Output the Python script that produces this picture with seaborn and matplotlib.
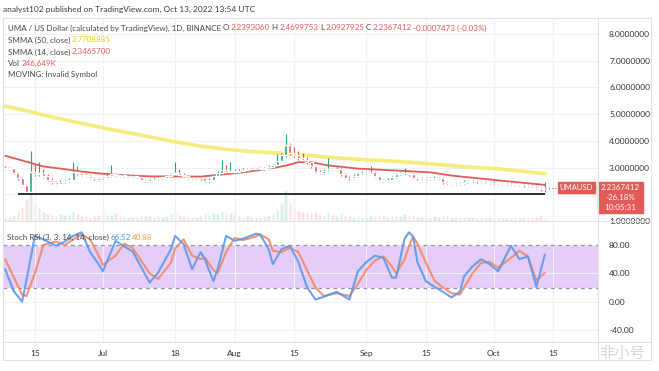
import matplotlib
matplotlib.use("Agg")
import matplotlib.pyplot as plt
from matplotlib.lines import Line2D
from matplotlib.patches import Rectangle
from matplotlib.ticker import FormatStrFormatter
import pandas as pd
import seaborn as sns

W, H = 659, 371

# daily candles, 2022-06-08 .. 2022-10-13
first_day = "2022-06-08"
first_open = 3.00
closes = [
    2.95, 2.97, 2.80, 2.60, 2.35, 2.10, 2.85, 2.75, 2.80, 2.70, 2.55, 2.45, 2.40, 2.45, 2.50, 2.55,
    2.85, 2.78, 2.72, 2.68, 2.62, 2.60, 2.55, 2.62, 2.68, 2.75, 2.72, 2.70, 2.70, 2.68, 2.70, 2.66,
    2.55, 2.50, 2.56, 2.58, 2.62, 2.62, 2.68, 2.75, 2.80, 2.72, 2.68, 2.62, 2.60, 2.62, 2.60, 2.50,
    2.55, 2.70, 2.80, 2.90, 2.85, 2.88, 2.85, 2.88, 2.92, 2.95, 2.93, 2.95, 2.97, 2.95, 3.02, 3.10,
    3.25, 3.45, 3.85, 3.55, 3.45, 3.35, 3.30, 3.20, 3.05, 2.85, 2.80, 2.88, 2.95, 2.92, 2.95, 2.75,
    2.62, 2.60, 2.70, 2.78, 2.80, 2.82, 2.85, 2.70, 2.55, 2.50, 2.55, 2.65, 2.75, 2.78, 2.80, 2.75,
    2.62, 2.60, 2.62, 2.60, 2.58, 2.62, 2.60, 2.45, 2.42, 2.40, 2.38, 2.42, 2.45, 2.48, 2.50, 2.48,
    2.47, 2.45, 2.42, 2.44, 2.43, 2.40, 2.38, 2.40, 2.36, 2.35, 2.33, 2.32, 2.30, 2.25, 2.20, 2.24,
]
highs = [
    3.05, 3.02, 3.00, 2.84, 2.63, 2.40, 3.60, 3.15, 3.20, 2.95, 2.75, 2.60, 2.50, 2.52, 2.55, 2.62,
    3.20, 3.05, 2.85, 2.78, 2.72, 2.66, 2.64, 2.66, 2.75, 3.10, 2.80, 2.76, 2.75, 2.74, 2.74, 2.74,
    2.68, 2.58, 2.60, 2.63, 2.66, 2.68, 2.72, 2.80, 3.20, 2.95, 2.78, 2.72, 2.66, 2.66, 2.66, 2.63,
    2.60, 2.75, 2.88, 3.30, 3.10, 3.20, 2.95, 2.93, 2.97, 3.00, 3.00, 3.00, 3.02, 3.02, 3.08, 3.15,
    3.50, 3.55, 4.25, 3.92, 3.75, 3.62, 3.55, 3.40, 3.25, 3.10, 2.92, 2.95, 3.35, 3.00, 3.05, 3.00,
    2.78, 2.68, 2.74, 2.82, 2.86, 2.88, 3.05, 2.88, 2.73, 2.58, 2.60, 2.70, 2.80, 2.84, 3.00, 2.85,
    2.78, 2.66, 2.66, 2.66, 2.64, 2.70, 2.66, 2.63, 2.50, 2.46, 2.44, 2.47, 2.55, 2.53, 2.55, 2.54,
    2.52, 2.50, 2.48, 2.48, 2.48, 2.46, 2.43, 2.44, 2.42, 2.40, 2.38, 2.37, 2.35, 2.33, 2.28, 2.47,
]
lows = [
    2.92, 2.92, 2.76, 2.55, 2.30, 2.03, 2.02, 2.70, 2.68, 2.65, 2.50, 2.40, 2.35, 2.38, 2.42, 2.47,
    2.52, 2.72, 2.68, 2.64, 2.58, 2.55, 2.48, 2.52, 2.60, 2.65, 2.68, 2.66, 2.66, 2.64, 2.65, 2.62,
    2.50, 2.45, 2.47, 2.53, 2.55, 2.58, 2.60, 2.65, 2.72, 2.68, 2.64, 2.58, 2.56, 2.56, 2.55, 2.45,
    2.47, 2.52, 2.67, 2.77, 2.80, 2.82, 2.80, 2.82, 2.85, 2.88, 2.88, 2.90, 2.92, 2.90, 2.92, 2.98,
    3.05, 3.20, 3.40, 3.48, 3.40, 3.30, 3.25, 3.15, 3.00, 2.80, 2.75, 2.76, 2.85, 2.88, 2.88, 2.70,
    2.58, 2.55, 2.57, 2.66, 2.74, 2.76, 2.78, 2.66, 2.50, 2.45, 2.47, 2.52, 2.62, 2.72, 2.74, 2.70,
    2.58, 2.55, 2.56, 2.56, 2.54, 2.55, 2.56, 2.40, 2.38, 2.36, 2.34, 2.35, 2.39, 2.42, 2.45, 2.44,
    2.43, 2.41, 2.38, 2.39, 2.39, 2.36, 2.34, 2.35, 2.32, 2.31, 2.29, 2.28, 2.26, 2.20, 2.12, 2.09,
]
volume_k = [
    450, 400, 600, 900, 1400, 2200, 3300, 1700, 1300, 900, 700, 600, 500, 700, 650, 600,
    1000, 700, 550, 500, 450, 500, 600, 900, 650, 600, 800, 500, 450, 400, 450, 400,
    550, 600, 500, 450, 500, 450, 500, 700, 950, 650, 500, 450, 400, 450, 500, 700,
    600, 800, 700, 950, 700, 800, 600, 500, 450, 500, 450, 400, 450, 500, 600, 800,
    1200, 1700, 3100, 1800, 1200, 1000, 900, 800, 850, 900, 600, 550, 900, 600, 500, 700,
    650, 500, 450, 500, 450, 400, 600, 550, 600, 500, 450, 500, 550, 500, 700, 550,
    600, 450, 400, 380, 400, 500, 450, 600, 500, 420, 400, 380, 450, 400, 380, 350,
    360, 340, 380, 350, 330, 340, 320, 350, 330, 320, 300, 310, 330, 380, 600, 247,
]

smma50_dates = ["2022-06-08", "2022-06-13", "2022-06-18", "2022-06-24", "2022-06-30", "2022-07-06",
                "2022-07-12", "2022-07-18", "2022-07-24", "2022-07-30", "2022-08-05", "2022-08-13",
                "2022-08-18", "2022-08-24", "2022-08-31", "2022-09-09", "2022-09-15", "2022-09-21",
                "2022-09-27", "2022-10-02", "2022-10-07", "2022-10-13"]
smma50 = [5.30, 5.12, 4.93, 4.72, 4.52, 4.33, 4.15, 3.96, 3.80, 3.68, 3.60, 3.52,
          3.46, 3.37, 3.30, 3.22, 3.15, 3.07, 3.00, 2.95, 2.87, 2.77]

smma14_dates = ["2022-06-08", "2022-06-13", "2022-06-17", "2022-06-21", "2022-06-26", "2022-06-30",
                "2022-07-07", "2022-07-12", "2022-07-24", "2022-08-02", "2022-08-09", "2022-08-13",
                "2022-08-16", "2022-08-19", "2022-08-23", "2022-08-30", "2022-09-09", "2022-09-16",
                "2022-09-21", "2022-10-02", "2022-10-13"]
smma14 = [3.44, 3.22, 3.04, 2.96, 2.85, 2.78, 2.70, 2.67, 2.66, 2.80, 2.95, 3.07,
          3.20, 3.20, 3.08, 2.96, 2.88, 2.82, 2.70, 2.52, 2.35]

stoch_dates = ["2022-06-08", "2022-06-10", "2022-06-12", "2022-06-13", "2022-06-15", "2022-06-17",
               "2022-06-20", "2022-06-22", "2022-06-24", "2022-06-26", "2022-06-28", "2022-06-30",
               "2022-07-01", "2022-07-04", "2022-07-06", "2022-07-08", "2022-07-12", "2022-07-14",
               "2022-07-17", "2022-07-18", "2022-07-20", "2022-07-22", "2022-07-24", "2022-07-25",
               "2022-07-27", "2022-07-28", "2022-07-30", "2022-08-01", "2022-08-03", "2022-08-06",
               "2022-08-07", "2022-08-09", "2022-08-10", "2022-08-12", "2022-08-14", "2022-08-16",
               "2022-08-18", "2022-08-20", "2022-08-22", "2022-08-25", "2022-08-28", "2022-08-30",
               "2022-09-01", "2022-09-03", "2022-09-05", "2022-09-07", "2022-09-08", "2022-09-10",
               "2022-09-11", "2022-09-12", "2022-09-13", "2022-09-15", "2022-09-17", "2022-09-19",
               "2022-09-21", "2022-09-23", "2022-09-24", "2022-09-26", "2022-09-28", "2022-09-30",
               "2022-10-02", "2022-10-05", "2022-10-07", "2022-10-09", "2022-10-11", "2022-10-13"]
stoch_k = [46, 15, 0, 30, 93, 88, 79, 85, 93, 98, 70, 53,
           43, 86, 78, 71, 27, 41, 74, 93, 81, 46, 70, 60,
           29, 46, 93, 86, 89, 96, 95, 74, 53, 74, 79, 56,
           21, 3, 7, 14, 3, 43, 56, 65, 62, 34, 34, 89,
           98, 92, 56, 29, 21, 14, 6, 14, 36, 50, 60, 53,
           43, 79, 60, 64, 21, 66.52]
stoch_d = [60, 35, 10, 8, 40, 80, 85, 80, 88, 95, 88, 65,
           52, 65, 82, 76, 40, 32, 55, 75, 88, 65, 60, 62,
           45, 40, 70, 90, 87, 92, 95, 88, 72, 70, 76, 70,
           45, 20, 8, 12, 8, 25, 45, 58, 64, 50, 40, 60,
           78, 92, 82, 55, 30, 20, 12, 10, 20, 40, 55, 56,
           48, 62, 72, 64, 30, 40.88]

price_ticks = [1, 2, 3, 4, 5, 6, 7, 8]
price_labels = ["1.0000000", "", "3.0000000", "4.0000000", "5.0000000",
                "6.0000000", "7.0000000", "8.0000000"]
stoch_ticks = [-40, 0, 40, 80]
date_ticks = ["2022-06-15", "2022-07-01", "2022-07-18", "2022-08-01", "2022-08-15",
              "2022-09-01", "2022-09-15", "2022-10-01", "2022-10-15"]
date_labels = ["15", "Jul", "18", "Aug", "15", "Sep", "15", "Oct", "15"]
support_level = 2.01

UP = "#2aa383"
DOWN = "#e35b57"
YELLOW = "#f5ec7c"
GRID = "#f0f1f4"
FRAME = "#dfe2ea"

sns.set_theme(style="white")
plt.rcParams["font.family"] = ["Lato", "Noto Sans CJK SC", "DejaVu Sans"]

candles = pd.DataFrame({
    "date": pd.date_range(first_day, periods=len(closes), freq="D"),
    "open": [first_open] + closes[:-1],
    "high": highs,
    "low": lows,
    "close": closes,
    "volume": volume_k,
})
candles["up"] = candles["close"] >= candles["open"]
candles["color"] = candles["up"].map({True: UP, False: DOWN})
candles["body_low"] = candles[["open", "close"]].min(axis=1)
candles["body_h"] = (candles["close"] - candles["open"]).abs().clip(lower=0.02)

smma = pd.concat([
    pd.DataFrame({"date": pd.to_datetime(smma50_dates), "value": smma50, "line": "SMMA 50"}),
    pd.DataFrame({"date": pd.to_datetime(smma14_dates), "value": smma14, "line": "SMMA 14"}),
])
stoch = pd.concat([
    pd.DataFrame({"date": pd.to_datetime(stoch_dates), "value": stoch_d, "line": "D"}),
    pd.DataFrame({"date": pd.to_datetime(stoch_dates), "value": stoch_k, "line": "K"}),
])

fig = plt.figure(figsize=(W / 100, H / 100), dpi=100)
fig.patch.set_facecolor("white")


def fx(x):
    return x / W


def fy(y):
    return 1 - y / H


ax_p = fig.add_axes([fx(3), fy(221), 595 / W, 203 / H])
ax_s = fig.add_axes([fx(3), fy(342), 595 / W, 121 / H], sharex=ax_p)
ax_v = ax_p.twinx()
ax_v.set_zorder(ax_p.get_zorder() - 1)
ax_p.patch.set_visible(False)

x_left = pd.Timestamp("2022-06-15") - pd.Timedelta(days=7.5)
x_right = pd.Timestamp("2022-06-15") + pd.Timedelta(days=132.5)

# volume overlay
ax_v.bar(candles["date"], candles["volume"], width=0.6, color=candles["color"], alpha=0.18)
ax_v.set_ylim(0, 20500)
ax_v.axis("off")

# candles
ax_p.vlines(candles["date"], candles["low"], candles["high"], color=candles["color"], lw=0.8, zorder=3)
ax_p.bar(candles["date"], candles["body_h"], bottom=candles["body_low"], width=0.72,
         color=candles["color"], zorder=4)
sns.lineplot(data=smma, x="date", y="value", hue="line", ax=ax_p, legend=False,
             palette={"SMMA 50": YELLOW, "SMMA 14": DOWN}, size="line",
             sizes={"SMMA 50": 2.6, "SMMA 14": 1.3}, zorder=2)
ax_p.hlines(support_level, pd.Timestamp("2022-06-11"), candles["date"].iloc[-1],
            color="#1e1e1e", lw=1.3, zorder=5)
ax_p.hlines(closes[-1], candles["date"].iloc[-1], x_right, color=DOWN, lw=0.8,
            linestyles=(0, (1, 2)), zorder=5)

ax_p.set_ylim(1.074, 8.593)
ax_p.set_yticks(price_ticks)
ax_p.set_yticklabels(price_labels)
ax_p.yaxis.tick_right()
ax_p.tick_params(axis="y", length=0, pad=8, labelsize=6, labelcolor="#333333")
ax_p.tick_params(axis="x", length=0, labelbottom=False)

# stoch rsi pane
ax_s.axhspan(20, 80, color="#e4cdf7", lw=0, zorder=0)
for level in (80, 20):
    ax_s.axhline(level, color="#9a8cb4", lw=0.9, ls=(0, (3, 3)), zorder=1)
sns.lineplot(data=stoch, x="date", y="value", hue="line", ax=ax_s, legend=False,
             palette={"K": "#5f98e8", "D": "#f08a66"}, lw=1.5, alpha=0.9, zorder=3)
ax_s.set_ylim(-57, 114)
ax_s.set_yticks(stoch_ticks)
ax_s.yaxis.set_major_formatter(FormatStrFormatter("%.2f"))
ax_s.yaxis.tick_right()
ax_s.tick_params(axis="y", length=0, pad=8, labelsize=6, labelcolor="#333333")

ax_s.set_xlim(x_left, x_right)
ax_s.set_xticks(pd.to_datetime(date_ticks))
ax_s.set_xticklabels(date_labels)
ax_s.tick_params(axis="x", length=0, pad=6, labelsize=6, labelcolor="#333333")

for ax in (ax_p, ax_s):
    ax.set_xlabel("")
    ax.set_ylabel("")
    ax.grid(True, color=GRID, lw=0.8)
    ax.set_axisbelow(True)
    for spine in ax.spines.values():
        spine.set_visible(False)

# frame lines
for xs, ys in [([3, 651], [18, 18]), ([3, 651], [360, 360]), ([3, 3], [18, 360]),
               ([651, 651], [18, 360]), ([598, 598], [18, 360]),
               ([3, 651], [221, 221]), ([3, 651], [342, 342])]:
    fig.add_artist(Line2D([fx(v) for v in xs], [fy(v) for v in ys], color=FRAME, lw=0.8))

renderer = fig.canvas.get_renderer()


def text_row(x, y, parts, size=5.8):
    for s, color in parts:
        t = fig.text(fx(x), fy(y), s, color=color, fontsize=size, va="center", ha="left")
        x += t.get_window_extent(renderer).width + 1.6


TXT = "#4a4a4a"
fig.text(fx(3), fy(9), "analyst102 published on TradingView.com, Oct 13, 2022 13:54 UTC",
         fontsize=6, color="#3a3a3a", va="center")
text_row(8, 28, [("UMA / US Dollar (calculated by TradingView), 1D, BINANCE", TXT),
                 ("O", TXT), ("2.2393060", DOWN), ("H", TXT), ("2.4699753", DOWN),
                 ("L", TXT), ("2.0927925", DOWN), ("C", TXT), ("2.2367412", DOWN),
                 ("-0.0007473 (-0.03%)", DOWN)])
text_row(8, 40, [("SMMA (50, close)", TXT), ("2.7708885", "#e2d21c")])
text_row(8, 52, [("SMMA (14, close)", TXT), ("2.3465700", DOWN)])
text_row(8, 63, [("Vol", TXT), ("246.649K", DOWN)])
text_row(8, 75, [("MOVING: Invalid Symbol", TXT)])
text_row(7, 237, [("Stoch RSI (3, 3, 14, 14, close)", TXT), ("66.52", "#4a98e0"),
                  ("40.88", "#f29a4a")])

# last price labels
y_last_px = H - ax_p.transData.transform((0, closes[-1]))[1]
fig.add_artist(Rectangle((fx(558), fy(y_last_px + 5)), 37 / W, 11 / H, color=DOWN,
                         transform=fig.transFigure))
fig.text(fx(576.5), fy(y_last_px), "UMAUSD", fontsize=5.5, color="white", ha="center", va="center")
fig.add_artist(Rectangle((fx(598), fy(y_last_px + 25)), 45 / W, 31 / H, color=DOWN,
                         transform=fig.transFigure))
for i, s in enumerate(["2.2367412", "-26.18%", "10:05:31"]):
    fig.text(fx(620.5), fy(y_last_px + i * 10), s, fontsize=5.8, color="white",
             ha="center", va="center")

# watermark
fig.text(fx(622), fy(354), "非小号", fontsize=11, color="#d2d2d2", ha="center", va="center",
         alpha=0.9)

fig.savefig("out.png", dpi=100)
plt.close(fig)
